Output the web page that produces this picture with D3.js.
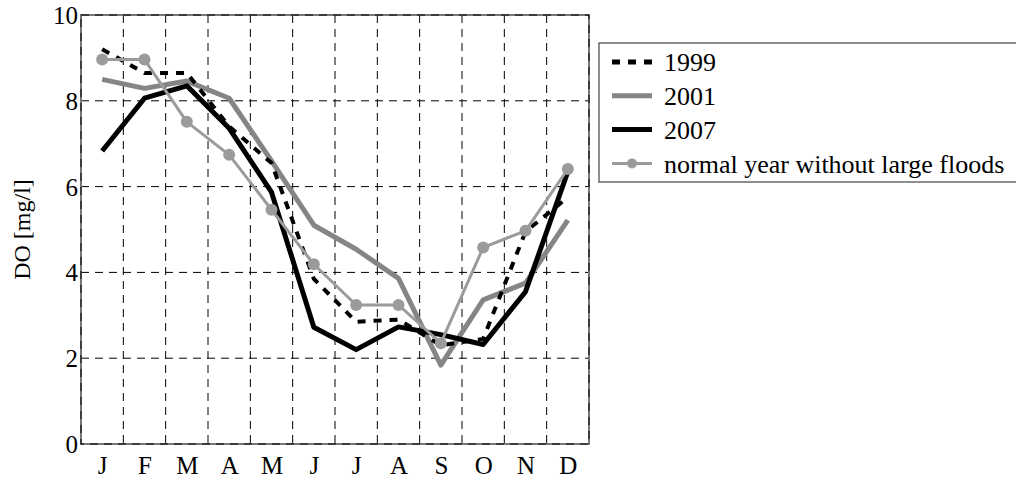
<!DOCTYPE html>
<html>
<head>
<meta charset="utf-8" />
<style>
  html, body {
    margin: 0;
    padding: 0;
    background: #fff;
  }
  svg {
    display: block;
  }
  svg text {
    font-family: "Liberation Serif", "Tinos", "Times New Roman", "DejaVu Serif", serif;
  }
  .grid {
    stroke: #000;
    stroke-width: 1px;
    stroke-dasharray: 8, 6;
    fill: none;
  }
  .frame {
    fill: none;
    stroke: #777;
    stroke-width: 2px;
  }
  .tick-label {
    font-size: 25px;
    fill: #000;
  }
  .legend text {
    font-size: 26px;
    fill: #000;
  }
</style>
</head>
<body>
<div id="vis"></div>
<script src="https://d3js.org/d3.v7.min.js"></script>
<script>
// ** DATA **
var months = ["J", "F", "M", "A", "M", "J", "J", "A", "S", "O", "N", "D"];
var yTicks = [0, 2, 4, 6, 8, 10];
var do1999 = [9.2, 8.65, 8.65, 7.4, 6.55, 3.85, 2.85, 2.9, 2.3, 2.45, 4.95, 5.75];
var do2001 = [8.5, 8.29, 8.46, 8.06, 6.6, 5.1, 4.54, 3.86, 1.84, 3.36, 3.75, 5.22];
var do2007 = [6.83, 8.06, 8.35, 7.36, 5.87, 2.72, 2.2, 2.73, 2.55, 2.32, 3.55, 6.35];
var doNormal = [8.96, 8.96, 7.51, 6.74, 5.46, 4.19, 3.24, 3.24, 2.35, 4.58, 4.97, 6.41];
var seriesNames = ["1999", "2001", "2007", "normal year without large floods"];

(function() {
  var W = 1016, H = 479;
  var margin = { left: 81, top: 15, right: 427, bottom: 35 };
  var w = W - margin.left - margin.right,
      h = H - margin.top - margin.bottom;

  var svg = d3.select("#vis").append("svg")
    .attr("width", W).attr("height", H);

  var g = svg.append("g")
    .attr("transform", "translate(" + margin.left + "," + margin.top + ")");

  // month i sits at i+1, so the frame runs from 0.5 to 12.5
  var x = d3.scaleLinear().domain([0.5, 12.5]).range([0, w]);
  var y = d3.scaleLinear().domain([0, 10]).range([h, 0]);

  // ** GRID **
  var vgrid = d3.range(1.5, 12.5, 1);
  g.selectAll(".vgrid").data(vgrid).enter().append("line")
    .attr("class", "grid")
    .attr("x1", function(d) { return x(d); }).attr("x2", function(d) { return x(d); })
    .attr("y1", 0).attr("y2", h);

  g.selectAll(".hgrid").data(yTicks.slice(1, -1)).enter().append("line")
    .attr("class", "grid")
    .attr("x1", 0).attr("x2", w)
    .attr("y1", function(d) { return y(d); }).attr("y2", function(d) { return y(d); });

  // frame: gray solid with dark dashes on top
  g.append("rect").attr("class", "frame")
    .attr("x", 0).attr("y", 0).attr("width", w).attr("height", h);
  g.append("rect").attr("class", "grid")
    .attr("x", 0).attr("y", 0).attr("width", w).attr("height", h);

  // ** AXES **
  var yAxis = d3.axisLeft(y).tickValues(yTicks).tickSize(0).tickPadding(3);
  var ya = g.append("g").call(yAxis)
    .attr("font-family", null).attr("font-size", null);
  ya.select(".domain").remove();
  ya.selectAll("text").attr("class", "tick-label").attr("dy", "0.34em");

  var xAxis = d3.axisBottom(x).tickValues(d3.range(1, 13))
    .tickFormat(function(d) { return months[d - 1]; })
    .tickSize(0).tickPadding(12);
  var xa = g.append("g").attr("transform", "translate(0," + h + ")").call(xAxis)
    .attr("font-family", null).attr("font-size", null);
  xa.select(".domain").remove();
  xa.selectAll("text").attr("class", "tick-label");

  svg.append("text")
    .attr("transform", "translate(30," + (margin.top + h / 2) + ") rotate(-90)")
    .attr("text-anchor", "middle")
    .style("font-size", "24px")
    .text("DO [mg/l]");

  // ** LINES **
  var line = d3.line()
    .x(function(d, i) { return x(i + 1); })
    .y(function(d) { return y(d); });

  var styles = [
    { data: do2001, stroke: "#858585", width: 5, dash: null },
    { data: do2007, stroke: "#000", width: 5, dash: null },
    { data: do1999, stroke: "#000", width: 4, dash: "8,8" },
    { data: doNormal, stroke: "#9b9b9b", width: 3, dash: null }
  ];

  styles.forEach(function(s) {
    g.append("path")
      .attr("d", line(s.data))
      .attr("fill", "none")
      .attr("stroke", s.stroke)
      .attr("stroke-width", s.width)
      .attr("stroke-linejoin", "round")
      .attr("stroke-dasharray", s.dash);
  });

  g.selectAll(".dot").data(doNormal).enter().append("circle")
    .attr("cx", function(d, i) { return x(i + 1); })
    .attr("cy", function(d) { return y(d); })
    .attr("r", 6)
    .attr("fill", "#9b9b9b");

  // ** LEGEND **
  var legStyles = [
    { stroke: "#000", width: 5, dash: "8,8", dot: false },
    { stroke: "#858585", width: 5, dash: null, dot: false },
    { stroke: "#000", width: 5, dash: null, dot: false },
    { stroke: "#9b9b9b", width: 3, dash: null, dot: true }
  ];

  var legend = svg.append("g").attr("class", "legend")
    .attr("transform", "translate(599,43)");
  legend.append("rect")
    .attr("x", 0).attr("y", 0).attr("width", 430).attr("height", 139)
    .attr("fill", "#fff").attr("stroke", "#444").attr("stroke-width", 1.2);

  var rows = legend.selectAll(".row").data(seriesNames).enter().append("g")
    .attr("transform", function(d, i) { return "translate(0," + (19 + i * 33.8) + ")"; });

  rows.append("line")
    .attr("x1", 13).attr("x2", 53).attr("y1", 0).attr("y2", 0)
    .attr("stroke", function(d, i) { return legStyles[i].stroke; })
    .attr("stroke-width", function(d, i) { return legStyles[i].width; })
    .attr("stroke-dasharray", function(d, i) { return legStyles[i].dash; });

  rows.filter(function(d, i) { return legStyles[i].dot; }).append("circle")
    .attr("cx", 33).attr("cy", 0).attr("r", 5).attr("fill", "#9b9b9b");

  rows.append("text")
    .attr("x", 65).attr("dy", "0.35em")
    .text(function(d) { return d; });
})();
</script>
</body>
</html>
